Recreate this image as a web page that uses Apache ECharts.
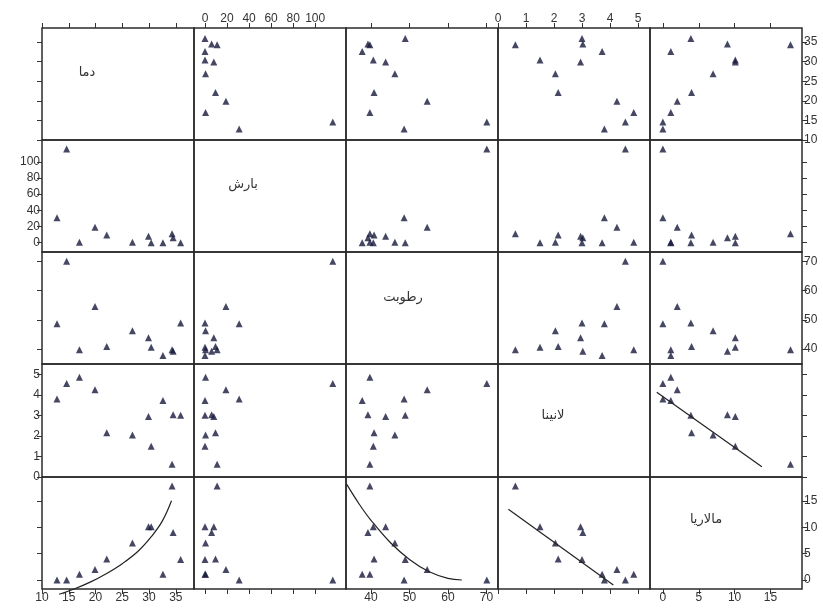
<!DOCTYPE html>
<html>
<head>
<meta charset="utf-8">
<script src="https://cdn.jsdelivr.net/npm/echarts@6/dist/echarts.min.js"></script>
<style>
  html, body { margin: 0; padding: 0; background: #fff; }
  #main { width: 823px; height: 611px; }
</style>
</head>
<body>
<div id="main"></div>
<script>
// variable names on the diagonal
const varNames = ['دما', 'بارش', 'رطوبت', 'لانینا', 'مالاریا'];

const temp    = [12.8, 14.6, 17.0, 19.9, 22.1, 26.9, 29.9, 30.4, 32.6, 34.3, 34.5, 35.9];
const rain    = [31, 116, 0.5, 19, 9.5, 0.5, 8, 0, 0, 11, 6, 0];
const humid   = [48.6, 70.1, 39.7, 54.6, 40.8, 46.2, 43.8, 40.6, 37.7, 39.7, 39.2, 48.9];
const lanina  = [3.8, 4.55, 4.85, 4.25, 2.15, 2.05, 2.95, 1.5, 3.72, 0.62, 3.03, 3.0];
const malaria = [0, 0, 1.1, 2.0, 4.0, 7.0, 10.1, 10.1, 1.1, 17.8, 9.0, 3.9];

// tick labels
const tempTicks    = [10, 15, 20, 25, 30, 35];
const rainTicks    = [0, 20, 40, 60, 80, 100];
const humidTicks   = [40, 50, 60, 70];
const laninaTicks  = [0, 1, 2, 3, 4, 5];
const malariaTicks = [0, 5, 10, 15];

// fit lines, points
const fitTempMalaria   = [[13.2, -2.7], [16, -1.7], [19, -0.4], [22, 1.2], [25, 3.1], [28, 5.5], [30.5, 8.3], [32.5, 11.2], [34.2, 15.0]];
const fitHumidMalaria  = [[33.7, 18.1], [37, 14.3], [40, 11.3], [45, 7.1], [50, 3.9], [55, 1.6], [60, 0.3], [63.6, 0]];
const fitLaninaMalaria = [[0.37, 13.4], [4.12, -0.95]];
const fitMalariaLanina = [[-0.86, 4.13], [13.8, 0.5]];

const vars = [temp, rain, humid, lanina, malaria];
const ticks = [tempTicks, rainTicks, humidTicks, laninaTicks, malariaTicks];
const xRange = [[10, 38.4], [-10, 128], [33.5, 73], [0, 5.43], [-1.8, 19.4]];
const yRange = [[10, 38.6], [-11.5, 127], [34.8, 73.3], [0, 5.5], [-1.7, 19.5]];

const colLeft = [42, 194, 346, 498, 650];
const rowTop = [28, 140, 252, 364, 477];
const cellW = 152;
const cellH = [112, 112, 112, 113, 112];
// where the name sits inside each diagonal cell
const nameDx = [45, 49, 57, 55, 56];
const nameDy = [45, 45, 46, 52, 43];

const textStyle = { color: '#333', fontSize: 12, fontFamily: 'Liberation Sans' };
const tickStyle = { color: '#333', width: 1 };

const grids = [], xAxes = [], yAxes = [], series = [];

for (let r = 0; r < 5; r++) {
  for (let c = 0; c < 5; c++) {
    const idx = r * 5 + c;
    grids.push({
      left: colLeft[c], top: rowTop[r], width: cellW, height: cellH[r],
      show: true, borderColor: '#2b2b2b', borderWidth: 1.5, backgroundColor: 'transparent'
    });
    const xLab = (r === 0 && c % 2 === 1) || (r === 4 && c % 2 === 0);
    xAxes.push({
      type: 'value', gridIndex: idx,
      min: xRange[c][0], max: xRange[c][1],
      position: r === 0 ? 'top' : 'bottom',
      show: r === 0 || r === 4,
      axisLine: { show: false, onZero: false },
      axisTick: { show: true, length: 5, customValues: ticks[c], lineStyle: tickStyle },
      axisLabel: Object.assign({ show: xLab, margin: 3, customValues: ticks[c] }, textStyle),
      splitLine: { show: false }
    });
    const yLab = (c === 0 && r % 2 === 1) || (c === 4 && r % 2 === 0);
    yAxes.push({
      type: 'value', gridIndex: idx,
      min: yRange[r][0], max: yRange[r][1],
      position: c === 0 ? 'left' : 'right',
      show: c === 0 || c === 4,
      axisLine: { show: false, onZero: false },
      axisTick: { show: true, length: 5, customValues: ticks[r], lineStyle: tickStyle },
      axisLabel: Object.assign({ show: yLab, margin: 2, customValues: ticks[r] }, textStyle),
      splitLine: { show: false }
    });
    if (r !== c) {
      series.push({
        type: 'scatter', xAxisIndex: idx, yAxisIndex: idx,
        symbol: 'triangle', symbolSize: 7,
        itemStyle: { color: '#181a3c' },
        data: vars[c].map((v, i) => [v, vars[r][i]])
      });
    }
  }
}

function fitLine(r, c, data, clip) {
  const idx = r * 5 + c;
  series.push({
    type: 'line', xAxisIndex: idx, yAxisIndex: idx,
    data: data, smooth: 0.4,
    symbol: 'none', clip: clip,
    lineStyle: { color: '#222', width: 1.2 }
  });
}
fitLine(4, 0, fitTempMalaria, false);
fitLine(4, 2, fitHumidMalaria, true);
fitLine(4, 3, fitLaninaMalaria, true);
fitLine(3, 4, fitMalariaLanina, true);

const graphic = varNames.map((name, i) => ({
  type: 'text',
  x: colLeft[i] + nameDx[i],
  y: rowTop[i] + nameDy[i],
  style: {
    text: name, fill: '#333',
    font: '13px "DejaVu Sans"',
    textAlign: 'center', textVerticalAlign: 'middle'
  }
}));

const chart = echarts.init(document.getElementById('main'));
chart.setOption({
  animation: false,
  backgroundColor: '#fff',
  grid: grids,
  xAxis: xAxes,
  yAxis: yAxes,
  series: series,
  graphic: graphic
});
</script>
</body>
</html>
